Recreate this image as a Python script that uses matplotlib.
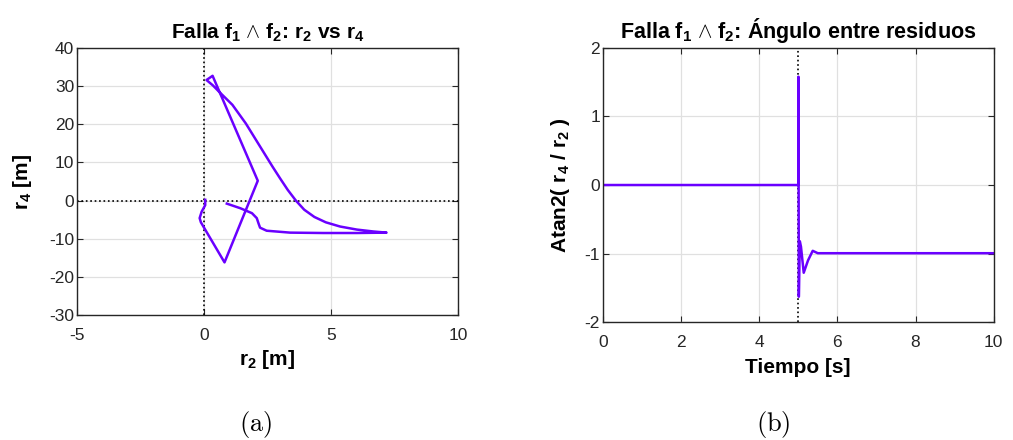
import numpy as np
import matplotlib
matplotlib.use("Agg")
import matplotlib.pyplot as plt

plt.rcParams["font.family"] = ["Liberation Sans", "DejaVu Sans"]
plt.rcParams["mathtext.fontset"] = "custom"
plt.rcParams["mathtext.rm"] = "Liberation Sans"
plt.rcParams["mathtext.bf"] = "Liberation Sans:bold"
plt.rcParams["mathtext.it"] = "Liberation Sans:italic"
plt.rcParams["axes.unicode_minus"] = False

# trayectoria r2 vs r4
r2 = [0.05, 0.05, -0.09, -0.17, -0.12, 0.81, 2.12, 0.34, 0.10,
      0.35, 0.60, 1.12, 1.65, 2.17, 2.70, 3.00, 3.30, 3.62, 3.95, 4.35, 4.80,
      5.36, 6.02, 6.67, 7.19,
      6.02, 4.70, 3.39, 2.47, 2.21, 2.15, 2.08, 1.89, 1.43, 0.90]
r4 = [0.2, -1.2, -2.9, -4.6, -5.7, -16.2, 5.2, 32.7, 31.6,
      30.2, 28.5, 25.1, 20.2, 14.6, 8.9, 5.8, 2.8, 0.0, -2.4, -4.3, -5.7,
      -6.8, -7.6, -8.1, -8.4,
      -8.5, -8.5, -8.4, -7.9, -7.1, -6.0, -4.6, -3.3, -2.0, -0.8]

# angulo entre residuos
t_ang = [0, 5.0, 5.005, 5.015, 5.04, 5.07, 5.14, 5.25, 5.37, 5.5, 10]
ang = [0, 0, 1.58, -1.63, -0.82, -0.9, -1.28, -1.1, -0.96, -0.995, -0.995]

col = "#6a00ff"
dark = "#262626"

fig = plt.figure(figsize=(10.13, 4.4), dpi=100)
ax1 = fig.add_axes([0.076, 0.284, 0.376, 0.607])
ax2 = fig.add_axes([0.595, 0.268, 0.386, 0.623])

for ax in (ax1, ax2):
    ax.grid(True, color="#e0e0e0", linewidth=0.9)
    ax.set_axisbelow(True)
    ax.tick_params(direction="in", top=True, right=True, labelsize=12.5,
                   colors=dark, length=4, width=0.8)
    ax.tick_params(axis="x", pad=9)
    ax.tick_params(axis="y", pad=2)
    for s in ax.spines.values():
        s.set_color(dark)
        s.set_linewidth(1.0)

ax1.axhline(0, color="black", linestyle=":", linewidth=1.2)
ax1.axvline(0, color="black", linestyle=":", linewidth=1.2)
ax1.plot(r2, r4, color=col, linewidth=1.8)
ax1.set_xlim(-5, 10)
ax1.set_ylim(-30, 40)
ax1.set_xticks([-5, 0, 5, 10])
ax1.set_yticks(np.arange(-30, 41, 10))
ax1.set_title(r"Falla $\mathbf{f_1}$ $\wedge$ $\mathbf{f_2}$: $\mathbf{r_2}$ vs $\mathbf{r_4}$",
              fontsize=15, fontweight="bold", pad=7)
ax1.set_xlabel(r"$\mathbf{r_2}$ [m]", fontsize=15, fontweight="bold", labelpad=4)
ax1.set_ylabel(r"$\mathbf{r_4}$ [m]", fontsize=15, fontweight="bold", labelpad=11)

ax2.axvline(5, color="black", linestyle=":", linewidth=1.2)
ax2.plot(t_ang, ang, color=col, linewidth=1.8)
ax2.set_xlim(0, 10)
ax2.set_ylim(-2, 2)
ax2.set_xticks(np.arange(0, 11, 2))
ax2.set_yticks(np.arange(-2, 3, 1))
ax2.set_title(r"Falla $\mathbf{f_1}$ $\wedge$ $\mathbf{f_2}$: Ángulo entre residuos",
              fontsize=15.5, fontweight="bold", pad=7)
ax2.set_xlabel("Tiempo [s]", fontsize=15, fontweight="bold", labelpad=6)
ax2.set_ylabel(r"Atan2( $\mathbf{r_4}$ / $\mathbf{r_2}$ )", fontsize=15, fontweight="bold", labelpad=9)

fig.text(0.252, 0.036, r"$\mathrm{(a)}$", fontsize=19, ha="center", va="center",
         math_fontfamily="cm")
fig.text(0.763, 0.036, r"$\mathrm{(b)}$", fontsize=19, ha="center", va="center",
         math_fontfamily="cm")

fig.savefig("out.png", dpi=100)
